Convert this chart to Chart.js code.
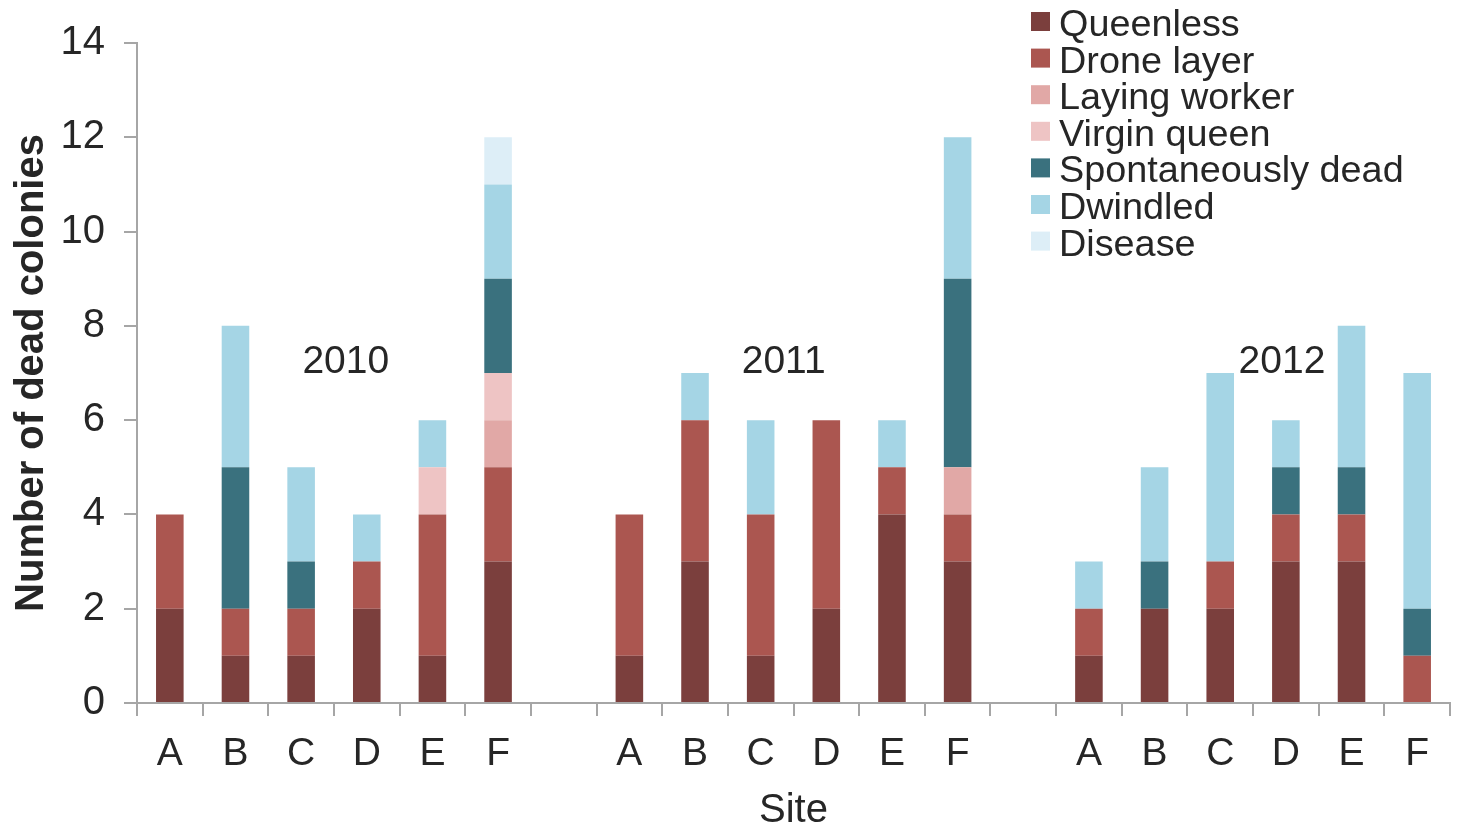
<!DOCTYPE html>
<html>
<head>
<meta charset="utf-8">
<script src="https://cdn.jsdelivr.net/npm/chart.js@4.4.1/dist/chart.umd.min.js"></script>
<style>
html,body{margin:0;padding:0;background:#fff;}
#wrap{width:1458px;height:827px;position:relative;}
</style>
</head>
<body>
<div id="wrap"><canvas id="c" width="1458" height="827"></canvas></div>
<script>
// Categories: sites per year, with blank separators
const categories = ['A','B','C','D','E','F','','A','B','C','D','E','F','','A','B','C','D','E','F'];
const yearLabels = ['2010','2011','2012'];
const yearLabelAnchors = [2.68, 9.35, 16.94];   // category index positions of year labels
const yearLabelValue = 7.23;                    // y value for year labels

const queenless   = [2,1,1,2,1,3, null, 1,3,1,2,4,3, null, 1,2,2,3,3,0];
const droneLayer  = [2,1,1,1,3,2, null, 3,3,3,4,1,1, null, 1,0,1,1,1,1];
const layingWorker= [0,0,0,0,0,1, null, 0,0,0,0,0,1, null, 0,0,0,0,0,0];
const virginQueen = [0,0,0,0,1,1, null, 0,0,0,0,0,0, null, 0,0,0,0,0,0];
const spontDead   = [0,3,1,0,0,2, null, 0,0,0,0,0,4, null, 0,1,0,1,1,1];
const dwindled    = [0,3,2,1,1,2, null, 0,1,2,0,1,3, null, 1,2,4,1,3,5];
const disease     = [0,0,0,0,0,1, null, 0,0,0,0,0,0, null, 0,0,0,0,0,0];

const yTicks = [0,2,4,6,8,10,12,14];

const seriesNames = ['Queenless','Drone layer','Laying worker','Virgin queen','Spontaneously dead','Dwindled','Disease'];
const seriesData = [queenless, droneLayer, layingWorker, virginQueen, spontDead, dwindled, disease];
const seriesColors = ['#7B3F3D','#AB5650','#E1A8A6','#EEC4C4','#3A717E','#A5D5E5','#DDEEF7'];

const FONT = '"Liberation Sans", Arial, sans-serif';
const TXT = '#262626';

const customDraw = {
  id: 'customDraw',
  afterDatasetsDraw(chart) {
    const ctx = chart.ctx;
    const xs = chart.scales.x, ys = chart.scales.y;
    ctx.save();
    // year labels
    ctx.font = '39px ' + FONT;
    ctx.fillStyle = TXT;
    ctx.textAlign = 'center';
    ctx.textBaseline = 'middle';
    const step = xs.getPixelForValue(1) - xs.getPixelForValue(0);
    yearLabels.forEach((t, i) => {
      const a = yearLabelAnchors[i];
      const px = xs.getPixelForValue(Math.floor(a)) + (a - Math.floor(a)) * step;
      ctx.fillText(t, px, ys.getPixelForValue(yearLabelValue));
    });
    // legend
    ctx.font = '37.8px ' + FONT;
    ctx.textAlign = 'left';
    ctx.textBaseline = 'middle';
    seriesNames.forEach((n, i) => {
      const cy = 21.5 + i * 36.6;
      ctx.fillStyle = seriesColors[i];
      ctx.fillRect(1031, cy - 9.5, 19, 19);
      ctx.fillStyle = TXT;
      ctx.fillText(n, 1059, cy + 4);
    });
    ctx.restore();
  }
};

new Chart(document.getElementById('c'), {
  type: 'bar',
  data: {
    labels: categories,
    datasets: seriesNames.map((n, i) => ({
      label: n,
      data: seriesData[i],
      backgroundColor: seriesColors[i],
      borderWidth: 0,
      categoryPercentage: 1.0,
      barPercentage: 0.42
    }))
  },
  options: {
    responsive: false,
    animation: false,
    layout: { padding: { top: 25, right: 8, left: 0, bottom: 0 } },
    plugins: { legend: { display: false }, tooltip: { enabled: false } },
    scales: {
      x: {
        stacked: true,
        grid: { display: true, drawOnChartArea: false, offset: true, tickLength: 13, color: '#A6A6A6', lineWidth: 2 },
        border: { display: true, color: '#A6A6A6', width: 2 },
        ticks: { font: { size: 39, family: FONT }, color: TXT, padding: 15, autoSkip: false, maxRotation: 0 },
        title: { display: true, text: 'Site', font: { size: 40, family: FONT, lineHeight: 0.8 }, color: TXT, padding: { top: 0, bottom: 0 } },
        afterFit(s) { s.height = 124; }
      },
      y: {
        stacked: true,
        min: 0, max: 14,
        afterBuildTicks(s) { s.ticks = yTicks.map(v => ({ value: v })); },
        grid: { display: true, drawOnChartArea: false, tickLength: 13, color: '#A6A6A6', lineWidth: 2 },
        border: { display: true, color: '#A6A6A6', width: 2 },
        ticks: { font: { size: 40, family: FONT }, color: TXT, padding: 19 },
        title: { display: true, text: 'Number of dead colonies', font: { size: 40, family: FONT, weight: 'bold' }, color: TXT, padding: { top: 8, bottom: 0 } },
        afterFit(s) { s.width = 137; }
      }
    }
  },
  plugins: [customDraw]
});
</script>
</body>
</html>
